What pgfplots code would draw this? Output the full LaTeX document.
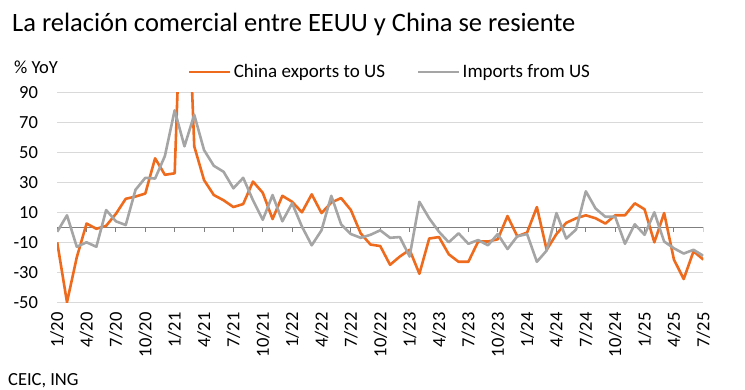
\documentclass[border=0pt]{standalone}
\usepackage{fontspec}
\setmainfont{Carlito}
\usepackage{pgfplots}
\usepackage{pgfplotstable}
\pgfplotsset{compat=1.18}
\definecolor{ingorange}{HTML}{EE6B1E}
\definecolor{inggray}{HTML}{A5A5A5}
\definecolor{gridgray}{HTML}{D9D9D9}
\definecolor{zerogray}{HTML}{7F7F7F}

\pgfplotstableread{
m china imp
0 -10 -3
1 -50 8
2 -20 -13
3 2.5 -10
4 -1 -13
5 1 11.5
6 9 4
7 19 1.5
8 20.5 25
9 22.5 33
10 46 32.5
11 35 47.5
12 36 78
13 223 54
14 54 75
15 31.5 51.5
16 21.5 41
17 18 37
18 13.5 26
19 15.5 33
20 30.5 18
21 23 5
22 5.5 21.5
23 21 4
24 17 16
25 10 0.5
26 22 -12
27 9.5 -2
28 16.5 21
29 19.5 2
30 11.5 -4.5
31 -4 -7
32 -11.5 -5
33 -12.5 -2
34 -25 -7
35 -19.5 -6.5
36 -15 -19.5
37 -31 17
38 -7.5 6
39 -6.5 -3
40 -18 -10
41 -23 -4
42 -23 -11
43 -9.5 -8.5
44 -9.5 -12
45 -8 -4.5
46 7.5 -14.5
47 -6 -6
48 -3.5 -4.5
49 13.5 -23
50 -15 -15.5
51 -4.5 9.5
52 3 -7.5
53 6 -1.5
54 8 24
55 6 12.5
56 2.5 7
57 8 7
58 8 -11
59 16 2
60 12 -5
61 -10 10
62 9.5 -9.5
63 -21.5 -14
64 -34.5 -17.5
65 -16 -15
66 -21.5 -19
}\datatable

\begin{document}
\begin{tikzpicture}
\useasboundingbox (0bp,0bp) rectangle (745bp,390bp);
\node[anchor=base west, inner sep=0pt, font=\fontsize{26.5bp}{30bp}\selectfont] at (12bp,358bp) {La relación comercial entre EEUU y China se resiente};
\node[anchor=base west, inner sep=0pt, font=\fontsize{18.5bp}{22bp}\selectfont] at (14bp,316bp) {\% YoY};
\node[anchor=base west, inner sep=0pt, font=\fontsize{18.5bp}{22bp}\selectfont] at (8bp,5bp) {CEIC, ING};
\begin{axis}[
  at={(57.2bp,87.7bp)}, anchor=south west,
  scale only axis, width=646.1bp, height=210bp,
  xmin=0, xmax=66, ymin=-50, ymax=90,
  ytick={-50,-30,...,90},
  xtick={0,3,...,66},
  xticklabels={1/20,4/20,7/20,10/20,1/21,4/21,7/21,10/21,1/22,4/22,7/22,10/22,1/23,4/23,7/23,10/23,1/24,4/24,7/24,10/24,1/25,4/25,7/25},
  ymajorgrids, grid style={gridgray, line width=1bp},
  extra y ticks={0}, extra y tick labels={},
  extra y tick style={grid style={zerogray, line width=1bp}},
  axis line style={draw=none},
  major tick style={draw=none},
  tick label style={font=\fontsize{18.5bp}{22bp}\selectfont, text=black},
  /pgf/number format/assume math mode=true,
  yticklabel style={anchor=east, inner sep=0pt},
  yticklabel shift=19bp,
  xticklabel style={rotate=90, anchor=east, inner sep=0pt},
  xticklabel shift=10bp,
  legend style={at={(axis description cs:0.2024,1.0967)}, anchor=west, draw=none, fill=none, inner sep=0pt,
    font=\fontsize{19bp}{22bp}\selectfont, legend columns=2,
    /tikz/every even column/.append style={column sep=30bp}, nodes={inner sep=2bp}},
  legend image code/.code={\draw[#1] (0bp,0bp) -- (41bp,0bp);},
]
\pgfplotsinvokeforeach{0,3,...,66}{\draw[zerogray, line width=1bp] (axis cs:#1,0) -- ++(0bp,-5bp);}
\addplot[ingorange, line width=2.6bp, line join=round] table[x=m, y=china] {\datatable};
\addlegendentry{China exports to US}
\addplot[inggray, line width=2.6bp, line join=round] table[x=m, y=imp] {\datatable};
\addlegendentry{Imports from US}
\end{axis}
\end{tikzpicture}
\end{document}
